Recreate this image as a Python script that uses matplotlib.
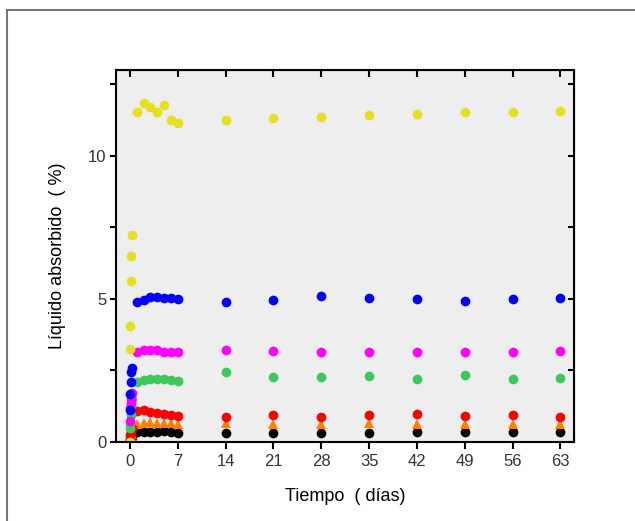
import matplotlib.pyplot as plt
from matplotlib.patches import Rectangle
from matplotlib.ticker import MultipleLocator

# sampling times (days): first readings taken within the first hours
t_early = [0.0, 0.02, 0.04, 0.08, 0.17, 0.25]
t_days = [1, 2, 3, 4, 5, 6, 7, 14, 21, 28, 35, 42, 49, 56, 63]
time = t_early + t_days

# absorbed liquid (%) per sample
yellow = [0.0, 3.25, 4.06, 5.64, 6.51, 7.25,
          11.54, 11.84, 11.70, 11.53, 11.78, 11.26, 11.14,
          11.27, 11.32, 11.36, 11.42, 11.47, 11.52, 11.54, 11.56]
blue = [0.0, 1.12, 1.66, 2.10, 2.46, 2.60,
        4.90, 4.97, 5.06, 5.05, 5.02, 5.04, 5.00,
        4.90, 4.96, 5.09, 5.03, 5.00, 4.93, 4.98, 5.02]
magenta = [0.0, 0.72, 1.20, 1.35, 1.50, 1.70,
           3.15, 3.22, 3.22, 3.20, 3.16, 3.14, 3.14,
           3.22, 3.19, 3.16, 3.13, 3.15, 3.13, 3.16, 3.19]
green = [0.0, 0.48, 0.62, 0.95, 1.25, 1.50,
         2.11, 2.17, 2.19, 2.20, 2.20, 2.17, 2.14,
         2.43, 2.26, 2.26, 2.31, 2.20, 2.33, 2.20, 2.24]
red = [0.0, 0.15, 0.25, 0.35, 0.42, 0.50,
       1.10, 1.12, 1.06, 1.00, 0.97, 0.94, 0.91,
       0.86, 0.93, 0.89, 0.96, 0.99, 0.91, 0.96, 0.89]
orange = [0.0, 0.08, 0.12, 0.18, 0.22, 0.28,
          0.62, 0.68, 0.70, 0.68, 0.66, 0.65, 0.64,
          0.65, 0.62, 0.62, 0.67, 0.62, 0.64, 0.64, 0.64]
black = [0.0, 0.04, 0.08, 0.10, 0.14, 0.18,
         0.35, 0.36, 0.36, 0.36, 0.37, 0.34, 0.30,
         0.33, 0.33, 0.33, 0.33, 0.34, 0.36, 0.35, 0.35]

series = [
    (black, 'o', 'black'),
    (orange, '^', '#ff8000'),
    (red, 'o', '#ff0000'),
    (green, 'o', '#3cc85a'),
    (magenta, 'o', '#ff00ff'),
    (blue, 'o', '#0000ff'),
    (yellow, 'o', '#e6e01e'),
]

plt.rcParams['font.family'] = ['Liberation Sans', 'DejaVu Sans']

fig = plt.figure(figsize=(6.35, 5.21), dpi=100)
ax = fig.add_axes([116/635, 1 - 442/521, (574 - 116)/635, (442 - 70)/521])
ax.set_facecolor('#eeeeee')

for values, marker, color in series:
    ax.plot(time, values, linestyle='none', marker=marker, color=color,
            markersize=7, markeredgewidth=0)

ax.set_xlim(-2.05, 65)
ax.set_ylim(0, 13)
ax.set_xticks(range(0, 64, 7))
ax.yaxis.set_major_locator(MultipleLocator(5))
ax.yaxis.set_minor_locator(MultipleLocator(2.5))

for side in ax.spines.values():
    side.set_linewidth(1.5)

ax.tick_params(axis='both', which='both', labelsize=12, width=1.5,
               labelcolor='#333333')
ax.tick_params(axis='x', which='major', direction='out', length=5, pad=4)
ax.tick_params(axis='y', which='both', direction='out', length=4, pad=3)

# inward ticks mirrored on the top and right edges
top = ax.secondary_xaxis('top')
top.set_xticks(range(0, 64, 7))
top.tick_params(direction='in', length=5, width=1.5, labeltop=False)
right = ax.secondary_yaxis('right')
right.yaxis.set_major_locator(MultipleLocator(5))
right.yaxis.set_minor_locator(MultipleLocator(2.5))
right.tick_params(which='both', direction='in', length=4, width=1.5,
                  labelright=False)

ax.set_xlabel('Tiempo  ( días)', fontsize=13, labelpad=13)
ax.set_ylabel('Líquido absorbido  ( %)', fontsize=13, labelpad=16)

# grey frame around the figure
fig.patches.append(Rectangle((7/635, -0.1), 1.2, 1.1 - 10/521,
                             transform=fig.transFigure, fill=False,
                             edgecolor='#777777', linewidth=1.5))

fig.savefig('out.png', dpi=100)
